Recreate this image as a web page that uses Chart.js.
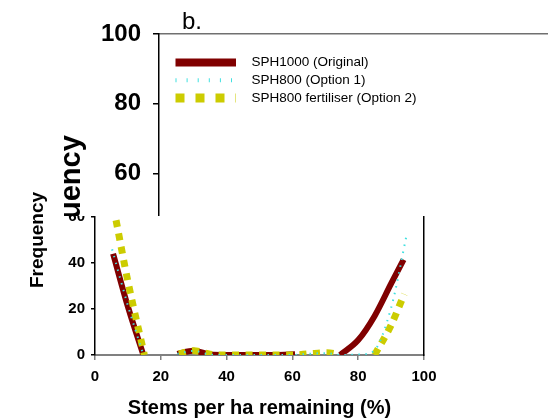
<!DOCTYPE html>
<html>
<head>
<meta charset="utf-8">
<script src="https://cdn.jsdelivr.net/npm/chart.js@4"></script>
<style>
    body { margin: 0; background: #fff; overflow: hidden; }
    #wrap { position: relative; width: 548px; height: 418px; overflow: hidden; }
    #chartA { position: absolute; left: 0; top: 0; }
    #topPanel { position: absolute; left: 50px; top: 0; width: 498px; height: 216px; overflow: hidden; background: #fff; }
</style>
</head>
<body>
<div id="wrap">
    <canvas id="chartA" width="548" height="418"></canvas>
    <div id="topPanel"><canvas id="chartB" width="600" height="418"></canvas></div>
</div>
<script>
    //================================================================ Data =================

    var seriesNames = ['SPH1000 (Original)', 'SPH800 (Option 1)', 'SPH800 fertiliser (Option 2)'];
    var xTitle = 'Stems per ha remaining (%)';
    var yTitle = 'Frequency';
    var panelTag = 'b.';
    var yTicks = [0, 20, 40, 60, 80, 100];

    //null = no value, line breaks there
    var origX = [5.5, 10, 14.7, 20, 25, 30, 35, 40, 45, 50, 55, 60.8, 67, 74.5, 80, 85, 90, 93.8];
    var origY = [44, 21, 0, null, 0.5, 1.8, 0.2, 0, 0, 0, 0, 0.3, null, 0, 6.5, 17, 31, 41.5];

    var opt1X = [5.2, 10, 14.7, 20, 25, 30, 35, 40, 45, 50, 55, 60, 65, 70, 75, 80, 84.5, 90, 94.7];
    var opt1Y = [46, 21.5, 0, null, 0.5, 1.8, 0.2, 0, 0, 0, 0, 0, 0.5, 0.8, 0, 0.2, 1.5, 20.5, 52];

    var opt2X = [6.4, 10, 15, 20, 25.5, 30, 35, 40, 45, 50, 55, 60, 65, 70.5, 74.4, 80, 85, 90, 94];
    var opt2Y = [58.6, 32, 0, null, 0.5, 1.9, 0.3, 0, 0, 0, 0, 0, 0.5, 1.0, 0.2, null, 0, 13, 26.5];

    //combine x and y lists into points
    function toPoints(xs, ys) {
        return xs.map(function(v, i) {
            return { x: v, y: ys[i] };
        });
    }

    Chart.defaults.font.family = 'Arial, "Liberation Sans", sans-serif';
    Chart.defaults.color = '#000';

    //================================================================ Lower chart (full) =================

    var chrtA = document.getElementById('chartA').getContext('2d');
    var configA = {
        type: 'line',
        data: {
            datasets: [{
                label: seriesNames[0],
                data: toPoints(origX, origY),
                borderColor: '#800000',
                borderWidth: 6,
                order: 3
            }, {
                label: seriesNames[1],
                data: toPoints(opt1X, opt1Y),
                borderColor: '#40e0e0',
                borderWidth: 2,
                borderDash: [1.5, 5.5],
                order: 1
            }, {
                label: seriesNames[2],
                data: toPoints(opt2X, opt2Y),
                borderColor: '#cccc00',
                borderWidth: 7,
                borderDash: [7, 6.5],
                order: 2
            }]
        },
        options: {
            responsive: false,
            animation: false,
            devicePixelRatio: 1,
            spanGaps: false,
            layout: { padding: { left: 22, right: 124, top: 125, bottom: 0 } },
            elements: {
                point: { radius: 0 },
                line: { cubicInterpolationMode: 'monotone', fill: false }
            },
            plugins: {
                legend: { display: false },
                tooltip: { enabled: false }
            },
            scales: {
                x: {
                    type: 'linear',
                    min: 0,
                    max: 100,
                    ticks: { stepSize: 20, font: { size: 15, weight: 'bold' }, color: '#000', padding: 8 },
                    grid: { drawOnChartArea: false, tickLength: 5, color: '#808080', lineWidth: 1.5 },
                    border: { color: '#808080', width: 2 },
                    title: { display: true, text: xTitle, font: { size: 20, weight: 'bold' }, color: '#000', padding: { top: 4, bottom: -2 } },
                    afterFit: function(s) { s.height = 63; }
                },
                y: {
                    min: 0,
                    max: 100,
                    afterBuildTicks: function(s) { s.ticks = yTicks.map(function(v) { return { value: v }; }); },
                    ticks: { font: { size: 15, weight: 'bold' }, color: '#000', padding: 6 },
                    grid: { drawOnChartArea: false, tickLength: 4, color: '#000', lineWidth: 1.5 },
                    border: { color: '#000', width: 1.5 },
                    title: { display: true, text: yTitle, font: { size: 19, weight: 'bold' }, color: '#000', padding: { top: 4, bottom: 4 } },
                    afterFit: function(s) { s.width = 73; }
                },
                yRight: {
                    position: 'right',
                    min: 0,
                    max: 100,
                    ticks: { display: false },
                    grid: { display: false, drawTicks: false },
                    border: { color: '#000', width: 1.5 }
                }
            }
        }
    };
    var chartA = new Chart(chrtA, configA);

    //================================================================ Upper panel (b.) =================

    //legend and panel letter drawn inside the plot area
    var panelLegend = {
        id: 'panelLegend',
        afterDraw: function(chart) {
            var ctx = chart.ctx;
            var left = chart.chartArea.left;
            ctx.save();
            ctx.fillStyle = '#000';
            ctx.font = '24px Arial, "Liberation Sans", sans-serif';
            ctx.textBaseline = 'alphabetic';
            ctx.fillText(panelTag, left + 23, 28.5);
            ctx.font = '13.5px Arial, "Liberation Sans", sans-serif';
            ctx.textBaseline = 'middle';
            chart.data.datasets.forEach(function(ds, i) {
                var y = 62.5 + i * 17.7;
                ctx.beginPath();
                ctx.strokeStyle = ds.borderColor;
                ctx.lineWidth = ds.borderWidth;
                ctx.setLineDash(ds.borderDash || []);
                ctx.moveTo(left + 16.5, y);
                ctx.lineTo(left + 77, y);
                ctx.stroke();
                ctx.setLineDash([]);
                ctx.fillText(ds.label, left + 92.5, y);
            });
            ctx.restore();
        }
    };

    var chrtB = document.getElementById('chartB').getContext('2d');
    var configB = {
        type: 'line',
        data: {
            datasets: [{
                label: seriesNames[0],
                data: [],
                borderColor: '#800000',
                borderWidth: 8
            }, {
                label: seriesNames[1],
                data: [],
                borderColor: '#40e0e0',
                borderWidth: 4,
                borderDash: [1, 10.1]
            }, {
                label: seriesNames[2],
                data: [],
                borderColor: '#cccc00',
                borderWidth: 9,
                borderDash: [9, 11]
            }]
        },
        options: {
            responsive: false,
            animation: false,
            devicePixelRatio: 1,
            layout: { padding: { left: 0, right: 0, top: 34, bottom: 35 } },
            plugins: {
                legend: { display: false },
                tooltip: { enabled: false }
            },
            scales: {
                x: {
                    type: 'linear',
                    position: 'top',
                    min: 0,
                    max: 100,
                    ticks: { display: false },
                    grid: { display: false, drawTicks: false },
                    border: { color: '#707070', width: 1.5 }
                },
                y: {
                    min: 0,
                    max: 100,
                    afterBuildTicks: function(s) { s.ticks = yTicks.map(function(v) { return { value: v }; }); },
                    ticks: { font: { size: 24, weight: 'bold' }, color: '#000', padding: 12 },
                    grid: { drawOnChartArea: false, tickLength: 6, color: '#000', lineWidth: 1.5 },
                    border: { color: '#000', width: 1.5 },
                    title: { display: true, text: yTitle, font: { size: 29, weight: 'bold' }, color: '#000', padding: { top: 5, bottom: 0 } },
                    afterFit: function(s) { s.width = 109; }
                }
            }
        },
        plugins: [panelLegend]
    };
    var chartB = new Chart(chrtB, configB);
</script>
</body>
</html>
